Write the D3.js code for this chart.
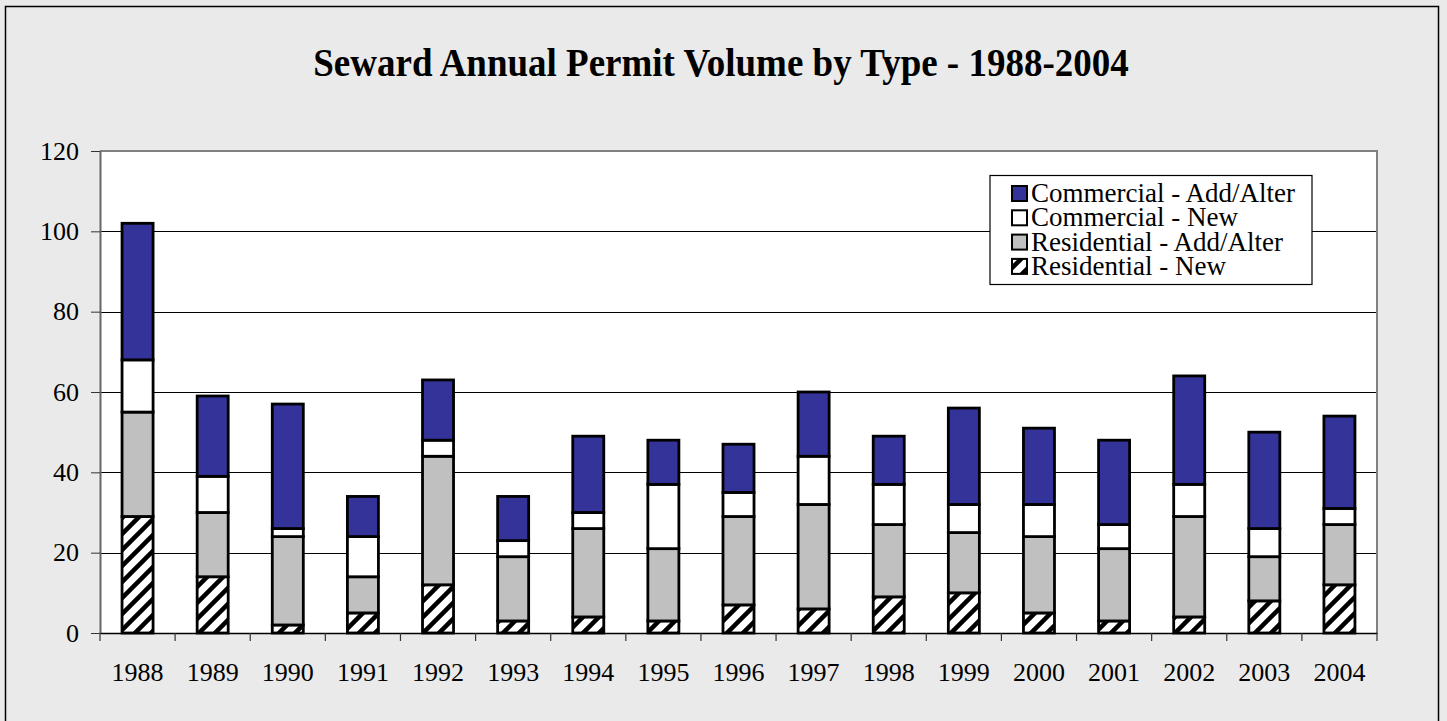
<!DOCTYPE html>
<html>
<head>
<meta charset="utf-8">
<script src="https://cdn.jsdelivr.net/npm/d3@7"></script>
<style>
  html, body { margin: 0; padding: 0; background: #eaeaea; }
  svg { display: block; }
  text { font-family: "Liberation Serif", "Times New Roman", serif; fill: #000; }
</style>
</head>
<body>
<svg id="chart" width="1447" height="721"></svg>
<script>
const years = ["1988","1989","1990","1991","1992","1993","1994","1995","1996","1997","1998","1999","2000","2001","2002","2003","2004"];
const residentialNew      = [29,14,2,5,12,3,4,3,7,6,9,10,5,3,4,8,12];
const residentialAddAlter = [26,16,22,9,32,16,22,18,22,26,18,15,19,18,25,11,15];
const commercialNew       = [13,9,2,10,4,4,4,16,6,12,10,7,8,6,8,7,4];
const commercialAddAlter  = [34,20,31,10,15,11,19,11,12,16,12,24,19,21,27,24,23];
const seriesNames = ["Residential - New","Residential - Add/Alter","Commercial - New","Commercial - Add/Alter"];
const yTicks = [0,20,40,60,80,100,120];
const title = "Seward Annual Permit Volume by Type - 1988-2004";

(function () {
const fills = ["url(#hatch)", "#c0c0c0", "#ffffff", "#333399"];

const svg = d3.select("#chart");
const W = 1447, H = 721;

// pattern
const defs = svg.append("defs");
const pat = defs.append("pattern")
  .attr("id", "hatch").attr("patternUnits", "userSpaceOnUse")
  .attr("width", 16).attr("height", 16);
pat.append("rect").attr("width", 16).attr("height", 16).attr("fill", "#fff");
pat.append("path")
  .attr("d", "M-4,4 L4,-4 M0,16 L16,0 M12,20 L20,12")
  .attr("stroke", "#000").attr("stroke-width", 4.5);

// background + outer border
svg.append("rect").attr("x", 0).attr("y", 0).attr("width", W).attr("height", H).attr("fill", "#eaeaea");
svg.append("rect").attr("x", 5.5).attr("y", 6.5).attr("width", 1433).attr("height", 730)
  .attr("fill", "none").attr("stroke", "#000").attr("stroke-width", 1.5);

// title
svg.append("text").attr("x", 721).attr("y", 76).attr("text-anchor", "middle")
  .attr("transform", "translate(0,76) scale(1,1.06) translate(0,-76)")
  .attr("font-size", 37).attr("font-weight", "bold").text(title);

const pL = 100, pR = 1377, pT = 151, pB = 633;

const x = d3.scaleBand().domain(years).range([pL, pR]).paddingInner(0.587).paddingOuter(0.2935);
const y = d3.scaleLinear().domain([0, 120]).range([pB, pT]);

// plot area
svg.append("rect").attr("x", pL).attr("y", pT).attr("width", pR - pL).attr("height", pB - pT)
  .attr("fill", "#fff");

// gridlines
svg.append("g").selectAll("line").data(yTicks.filter(d => d > 0 && d < 120)).join("line")
  .attr("x1", pL).attr("x2", pR)
  .attr("y1", d => Math.round(y(d)) + 0.5).attr("y2", d => Math.round(y(d)) + 0.5)
  .attr("stroke", "#000").attr("stroke-width", 1);

// plot border (top, right)
svg.append("path").attr("d", `M${pL},${pT} L${pR},${pT} L${pR},${pB}`)
  .attr("fill", "none").attr("stroke", "#808080").attr("stroke-width", 2);

// stacked data
const rows = years.map((yr, i) => ({ year: yr, s0: residentialNew[i], s1: residentialAddAlter[i], s2: commercialNew[i], s3: commercialAddAlter[i] }));
const stack = d3.stack().keys(["s0","s1","s2","s3"])(rows);

const gBars = svg.append("g");
stack.forEach((layer, k) => {
  gBars.selectAll(null).data(layer).join("rect")
    .attr("x", d => x(d.data.year))
    .attr("width", x.bandwidth())
    .attr("y", d => y(d[1]))
    .attr("height", d => y(d[0]) - y(d[1]))
    .attr("fill", fills[k])
    .attr("stroke", "#000").attr("stroke-width", 2.8);
});

// y axis
const yAxis = d3.axisLeft(y).tickValues(yTicks).tickSize(9).tickPadding(12).tickSizeOuter(0);
const gy = svg.append("g").attr("transform", `translate(${pL},0)`).call(yAxis);
gy.select(".domain").attr("stroke", "#666").attr("stroke-width", 2);
gy.selectAll(".tick line").attr("stroke", "#333");
gy.selectAll(".tick text").attr("font-size", 26).attr("font-family", "Liberation Serif").attr("fill", "#000");

// x axis
const xAxis = d3.axisBottom(x).tickSize(0).tickPadding(30).tickSizeOuter(0);
const gx = svg.append("g").attr("transform", `translate(0,${pB})`).call(xAxis);
gx.select(".domain").attr("stroke", "#000").attr("stroke-width", 1.5);
gx.selectAll(".tick text").attr("font-size", 26).attr("font-family", "Liberation Serif").attr("fill", "#000");
// category separator ticks
const step = x.step();
svg.append("g").selectAll("line").data(d3.range(years.length + 1)).join("line")
  .attr("x1", i => pL + i * step).attr("x2", i => pL + i * step)
  .attr("y1", pB).attr("y2", pB + 8)
  .attr("stroke", "#333").attr("stroke-width", 1.2);

// legend
const lg = svg.append("g");
lg.append("rect").attr("x", 990).attr("y", 175.5).attr("width", 322).attr("height", 109)
  .attr("fill", "#fff").attr("stroke", "#000").attr("stroke-width", 1.2);
const legendOrder = [3, 2, 1, 0];
legendOrder.forEach((k, i) => {
  const by = 202 + i * 24.3;
  lg.append("rect").attr("x", 1012).attr("y", by - 16).attr("width", 15).attr("height", 15)
    .attr("fill", fills[k]).attr("stroke", "#000").attr("stroke-width", 2);
  lg.append("text").attr("x", 1031).attr("y", by).attr("font-size", 27).text(seriesNames[k]);
});
})();
</script>
</body>
</html>
